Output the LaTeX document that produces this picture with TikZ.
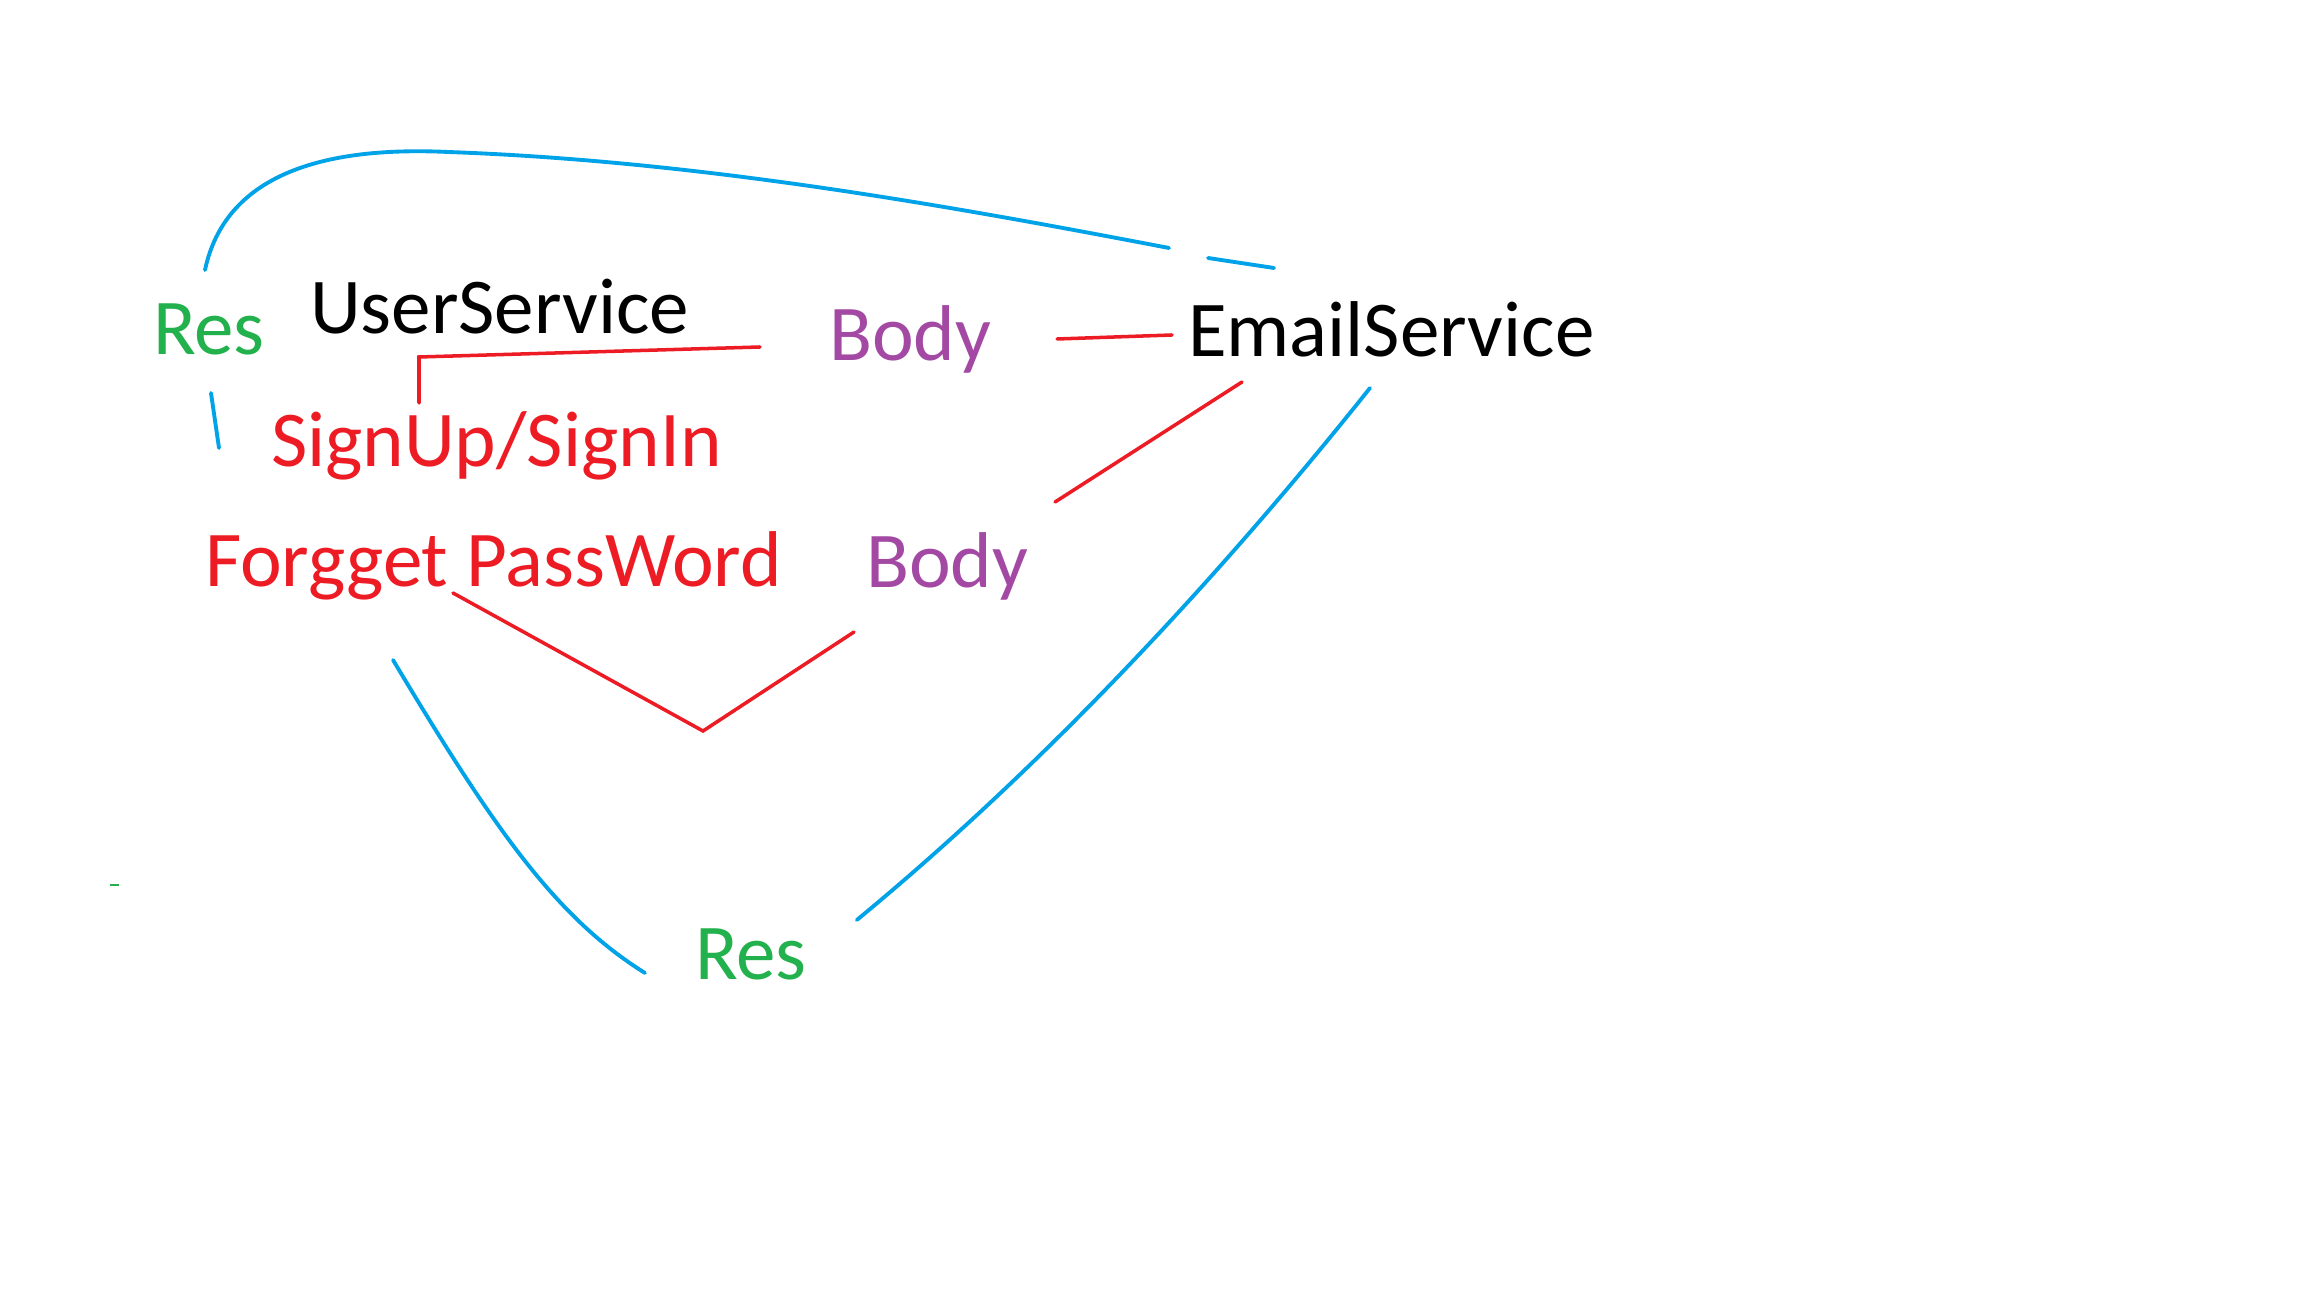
\documentclass[tikz,border=0pt]{standalone}
\usepackage{fontspec}
\setmainfont{Carlito}
\definecolor{pblue}{RGB}{0,162,232}
\definecolor{pred}{RGB}{237,28,36}
\definecolor{pgreen}{RGB}{34,177,76}
\definecolor{ppurple}{RGB}{163,73,164}
\tikzset{
  lbl/.style={inner sep=0pt, outer sep=0pt, anchor=base west, font=\fontsize{22.5}{27}\selectfont},
  bluepen/.style={pblue, line width=1.1pt, line cap=round},
  redpen/.style={pred, line width=1pt, line cap=round}
}
\begin{document}
\begin{tikzpicture}
\useasboundingbox (0,0) rectangle (23.04,12.96);
% labels
\node[lbl, pgreen] (resT) at (1.53,9.41) {Res};
\node[lbl] (user) at (3.10,9.62) {UserService};
\node[lbl, ppurple] (body1) at (8.29,9.35) {Body};
\node[lbl] (email) at (11.88,9.39) {EmailService};
\node[lbl, pred] (signup) at (2.71,8.29) {SignUp/SignIn};
\node[lbl, pred] (forgot) at (2.05,7.09) {Forgget PassWord};
\node[lbl, ppurple] (body2) at (8.66,7.08) {Body};
\node[lbl, pgreen] (resB) at (6.95,3.17) {Res};
% request lines
\draw[redpen] ([shift={(1.48,0.64)}]signup.base west) -- ++(0,0.46) -- ([shift={(-0.69,0.14)}]body1.base west);
\draw[redpen] ([shift={(0.66,0.22)}]body1.base east) -- ([shift={(-0.16,0.22)}]email.base west);
\draw[redpen] ([shift={(0.54,-0.25)}]email.base west) -- ([shift={(0.27,0.86)}]body2.base east);
\draw[redpen] ([shift={(2.48,-0.06)}]forgot.base west) -- (7.03,5.65) -- ([shift={(-0.12,-0.44)}]body2.base west);
% response lines
\draw[bluepen] ([shift={(0.52,0.85)}]resT.base west) .. controls (2.25,11.2) and (3.2,11.5) .. (4.48,11.44)
  .. controls (7,11.35) and (9.5,10.9) .. ([shift={(-0.19,1.09)}]email.base west);
\draw[bluepen] ([shift={(0.20,0.99)}]email.base west) -- ([shift={(0.86,0.89)}]email.base west);
\draw[bluepen] ([shift={(0.58,-0.38)}]resT.base west) -- ([shift={(0.66,-0.93)}]resT.base west);
\draw[bluepen] ([shift={(1.88,-0.73)}]forgot.base west) .. controls (4.93,4.69) and (5.55,3.79) .. ([shift={(-0.50,0.06)}]resB.base west);
\draw[bluepen] ([shift={(1.82,-0.31)}]email.base west) .. controls (11.97,6.91) and (10.23,5.13) .. ([shift={(0.50,0.59)}]resB.base east);
\draw[pgreen, line width=0.4pt] (1.10,4.11) -- (1.19,4.11);
\end{tikzpicture}
\end{document}
